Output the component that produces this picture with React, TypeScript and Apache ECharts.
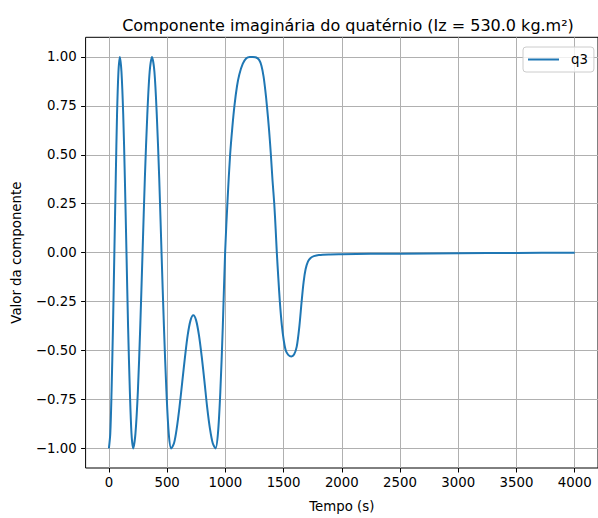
import React, { useEffect, useRef } from "react";
import * as echarts from "echarts";

// Simulation time (s) and the imaginary quaternion component q3
const tempo = [
  0, 12, 23, 35, 47, 59, 70, 82, 94,
  108, 123, 137, 151, 165, 180, 194, 208,
  228, 249, 269, 289, 309, 330, 350, 370,
  391, 411, 432, 452, 473, 494, 514, 535,
  559, 582, 606, 630, 654, 677, 701, 725,
  749, 773, 797, 821, 844, 868, 892, 916,
  937, 957, 978, 998, 1020, 1041, 1060, 1078, 1100, 1120, 1150, 1180, 1210, 1235,
  1260, 1290, 1310, 1328, 1343, 1357, 1375, 1391, 1405, 1420, 1432, 1442, 1455, 1468,
  1485, 1502, 1519, 1540, 1567, 1590, 1613, 1635, 1655, 1672, 1689, 1710, 1732, 1760,
  1803, 1900, 2000, 2250, 2500, 3000, 3500, 4000,
];
const q3 = [
  -1, -0.924, -0.707, -0.383, 0, 0.383, 0.707, 0.924, 1,
  0.924, 0.707, 0.383, 0, -0.383, -0.707, -0.924, -1,
  -0.924, -0.707, -0.383, 0, 0.383, 0.707, 0.924, 1,
  0.924, 0.707, 0.383, 0, -0.383, -0.707, -0.924, -1,
  -0.974, -0.9, -0.79, -0.66, -0.53, -0.42, -0.346, -0.32,
  -0.346, -0.42, -0.53, -0.66, -0.79, -0.9, -0.974, -1,
  -0.92, -0.71, -0.38, 0, 0.28, 0.5, 0.64, 0.75, 0.85, 0.91, 0.965, 0.993, 1.0, 1.0,
  0.998, 0.985, 0.955, 0.9, 0.83, 0.75, 0.63, 0.5, 0.37, 0.25, 0.12, 0, -0.13, -0.25,
  -0.37, -0.45, -0.5, -0.522, -0.53, -0.52, -0.48, -0.38, -0.25, -0.15, -0.085, -0.045, -0.027, -0.018,
  -0.012, -0.009, -0.008, -0.006, -0.005, -0.003, -0.0015, -0.0005,
];

const xTicks = [0, 500, 1000, 1500, 2000, 2500, 3000, 3500, 4000];
const yTicks = [-1, -0.75, -0.5, -0.25, 0, 0.25, 0.5, 0.75, 1];

const FONT = "DejaVu Sans";

const fmtY = (v: number) => {
  const s = Math.abs(v).toFixed(2);
  return v < 0 ? "\u2212" + s : s;
};

export default function App() {
  const ref = useRef<HTMLDivElement>(null);

  useEffect(() => {
    if (!ref.current) return;
    const chart = echarts.init(ref.current, undefined, { renderer: "svg" });
    chart.setOption({
      animation: false,
      backgroundColor: "#ffffff",
      title: {
        text: "Componente imaginária do quatérnio (Iz = 530.0 kg.m²)",
        left: 343,
        textAlign: "center",
        top: 12,
        textStyle: { fontFamily: FONT, fontSize: 16, fontWeight: "normal", color: "#000" },
      },
      legend: {
        data: [{ name: "q3", icon: "rect" }],
        left: 523,
        top: 47,
        padding: [6, 6, 6, 5],
        itemWidth: 31,
        itemHeight: 2,
        backgroundColor: "rgba(255,255,255,0.8)",
        borderColor: "#cccccc",
        borderWidth: 1,
        borderRadius: 3,
        textStyle: { fontFamily: FONT, fontSize: 13.3, color: "#000", padding: [0, 0, 0, 7] },
      },
      grid: {
        left: 85.6,
        top: 37.3,
        width: 515.5,
        height: 432,
        show: true,
        borderColor: "#000",
        borderWidth: 1,
        backgroundColor: "transparent",
      },
      xAxis: {
        type: "value",
        min: -200,
        max: 4200,
        name: "Tempo (s)",
        nameLocation: "middle",
        nameGap: 32,
        nameTextStyle: { fontFamily: FONT, fontSize: 13.3, color: "#000" },
        axisLine: { show: false, onZero: false },
        axisTick: {
          show: true,
          length: 4.5,
          customValues: xTicks,
          lineStyle: { color: "#000", width: 1 },
        },
        axisLabel: {
          customValues: xTicks,
          margin: 8,
          fontFamily: FONT,
          fontSize: 13.3,
          color: "#000",
          formatter: (v: number) => String(v),
        },
        splitLine: { show: true, lineStyle: { color: "#b0b0b0", width: 1 } },
      },
      yAxis: {
        type: "value",
        min: -1.1,
        max: 1.1,
        name: "Valor da componente",
        nameLocation: "middle",
        nameGap: 63,
        nameTextStyle: { fontFamily: FONT, fontSize: 13.3, color: "#000" },
        axisLine: { show: false, onZero: false },
        axisTick: {
          show: true,
          length: 4.5,
          customValues: yTicks,
          lineStyle: { color: "#000", width: 1 },
        },
        axisLabel: {
          customValues: yTicks,
          margin: 9,
          fontFamily: FONT,
          fontSize: 13.3,
          color: "#000",
          formatter: (v: number) => fmtY(v),
        },
        splitLine: { show: true, lineStyle: { color: "#b0b0b0", width: 1 } },
      },
      series: [
        {
          name: "q3",
          type: "line",
          data: tempo.map((t, i) => [t, q3[i]]),
          showSymbol: false,
          symbol: "none",
          smooth: 0.3,
          lineStyle: { color: "#1f77b4", width: 2 },
          itemStyle: { color: "#1f77b4" },
        },
      ],
    });
    return () => chart.dispose();
  }, []);

  return (
    <div
      ref={ref}
      style={{ position: "fixed", left: 0, top: 0, width: 598, height: 518, background: "#fff" }}
    />
  );
}
